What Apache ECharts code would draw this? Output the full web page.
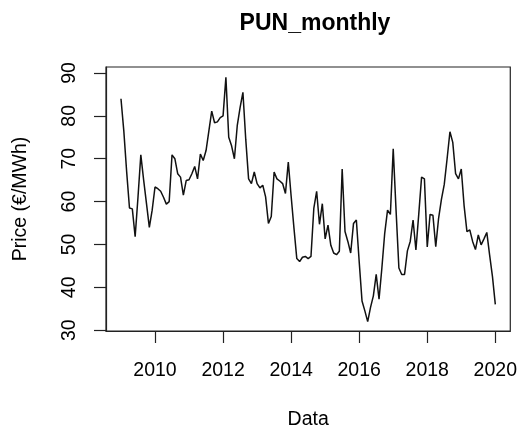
<!DOCTYPE html>
<html>
<head>
<meta charset="utf-8">
<script src="https://cdn.jsdelivr.net/npm/echarts@6/dist/echarts.min.js"></script>
<style>
html,body{margin:0;padding:0;background:#fff;}
#c{width:520px;height:435px;}
</style>
</head>
<body>
<div id="c"></div>
<script>
const titleText = 'PUN_monthly';
const xName = 'Data';
const yName = 'Price (€/MWh)';
const startYear = 2009;
const startMonth = 1;
const prices = [
  84.0, 76.5, 67.0, 58.5, 58.3, 51.8, 61.0, 70.9, 65.0, 59.5, 54.0, 58.0,
  63.4, 63.0, 62.4, 61.0, 59.4, 60.0, 70.9, 70.0, 66.5, 65.7, 61.5, 64.9,
  65.1, 66.5, 68.2, 65.3, 71.1, 69.6, 71.9, 76.5, 81.1, 78.4, 78.6, 79.6,
  80.0, 89.0, 75.0, 73.0, 70.0, 77.7, 81.9, 85.5, 74.5, 65.3, 64.2, 66.9,
  64.2, 63.2, 63.8, 61.1, 54.9, 56.5, 66.9, 65.3, 64.8, 64.2, 61.9, 69.2,
  61.3, 53.8, 46.7, 46.0, 47.0, 47.2, 46.7, 47.2, 58.4, 62.4, 54.7, 59.5,
  51.3, 54.5, 49.8, 48.0, 47.6, 48.4, 67.6, 53.0, 50.7, 48.0, 54.9, 55.7,
  46.0, 36.8, 34.5, 32.0, 35.3, 38.0, 43.0, 37.2, 44.5, 52.6, 58.0, 57.0,
  72.3, 58.0, 44.5, 43.0, 43.0, 48.5, 50.7, 55.7, 48.7, 57.0, 65.7, 65.3,
  49.4, 57.0, 56.8, 49.5, 56.1, 60.5, 64.0, 70.0, 76.3, 73.8, 66.5, 65.3,
  67.6, 59.0, 53.0, 53.4, 50.7, 48.8, 52.2, 49.9, 51.3, 52.8, 47.5, 42.5,
  36.0
];
const xTicks = [2010, 2012, 2014, 2016, 2018, 2020];
const yTicks = [30, 40, 50, 60, 70, 80, 90];
const xRange = [2008.56, 2020.44];
const yRange = [29.8, 91.4];

const seriesData = prices.map((v, i) => [startYear + (startMonth - 1 + i) / 12, v]);

const FONT = 'Liberation Sans, Arial, Helvetica, sans-serif';
const chart = echarts.init(document.getElementById('c'), null, {renderer: 'canvas'});
chart.setOption({
  animation: false,
  backgroundColor: '#ffffff',
  title: {
    text: titleText,
    left: 310,
    top: 7,
    textAlign: 'center',
    textStyle: {fontFamily: FONT, fontSize: 23, fontWeight: 'bold', color: '#000'}
  },
  grid: {
    left: 106, right: 5, top: 67, bottom: 102,
    show: true, borderColor: '#222', borderWidth: 1.2, backgroundColor: 'transparent'
  },
  xAxis: {
    type: 'value',
    min: xRange[0],
    max: xRange[1],
    name: xName,
    nameLocation: 'middle',
    nameGap: 79,
    nameTextStyle: {fontFamily: FONT, fontSize: 19.5, color: '#000'},
    axisLine: {show: true, onZero: false, lineStyle: {color: '#222', width: 1.2}},
    axisTick: {show: true, inside: false, length: 12, customValues: xTicks, lineStyle: {color: '#222', width: 1.2}},
    axisLabel: {show: true, customValues: xTicks, margin: 30, fontFamily: FONT, fontSize: 19.5, color: '#000',
      formatter: v => String(Math.round(v))},
    splitLine: {show: false}
  },
  yAxis: {
    type: 'value',
    min: yRange[0],
    max: yRange[1],
    name: yName,
    nameLocation: 'middle',
    nameGap: 75,
    nameRotate: 90,
    nameTextStyle: {fontFamily: FONT, fontSize: 19.5, color: '#000'},
    axisLine: {show: true, onZero: false, lineStyle: {color: '#222', width: 1.2}},
    axisTick: {show: true, inside: false, length: 12, customValues: yTicks, lineStyle: {color: '#222', width: 1.2}},
    axisLabel: {show: true, customValues: yTicks, rotate: 90, margin: 26, fontFamily: FONT, fontSize: 19.5, color: '#000',
      formatter: v => String(Math.round(v))},
    splitLine: {show: false}
  },
  series: [{
    type: 'line',
    data: seriesData,
    showSymbol: false,
    symbol: 'none',
    lineStyle: {color: '#111', width: 1.5},
    z: 3
  }]
});
</script>
</body>
</html>
